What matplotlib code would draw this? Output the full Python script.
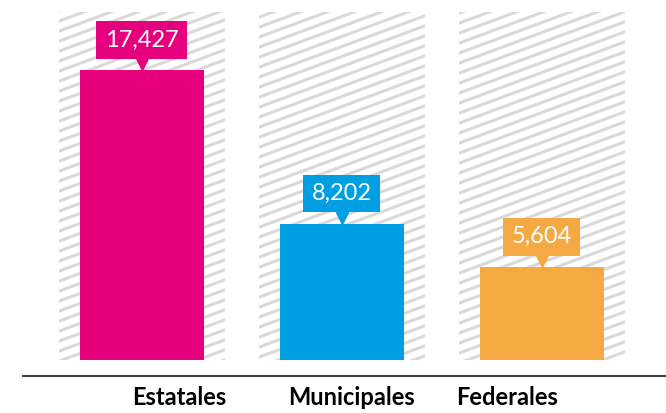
import numpy as np
import matplotlib
matplotlib.use("Agg")
from matplotlib import pyplot as plt
from matplotlib.collections import LineCollection
from matplotlib.transforms import offset_copy, blended_transform_factory

categories = ["Estatales", "Municipales", "Federales"]
values = [17427, 8202, 5604]
colors = ["#E6007E", "#009FE3", "#F5A942"]
label_shift = [0.19, 0.05, -0.17]  # category labels sit off-centre in the original

fig = plt.figure(figsize=(6.66, 4.13), dpi=100)
ax = fig.add_axes([0, 53 / 413, 1, 360 / 413])
x = np.arange(len(categories))

ymax = values[0] * 360 / 290
ax.set_xlim(-0.7075, 2.6225)
ax.set_ylim(0, ymax)
ax.axis("off")

# hatched background columns
bg = ax.bar(x, [values[0] * 348 / 290] * len(x), width=0.83, color="none", edgecolor="none")
segs = []
for y0 in np.arange(-400, 420, 10):
    segs.append([(0, y0 / 100), (6.66, (y0 + 0.37 * 666) / 100)])
for p in bg:
    lc = LineCollection(segs, colors="#d9d9d9", linewidths=2.2, transform=fig.dpi_scale_trans)
    ax.add_collection(lc, autolim=False)
    lc.set_clip_box(None)
    lc.set_clip_path(p.get_path(), p.get_transform())

ax.bar(x, values, width=0.62, color=colors, zorder=3)

# callout labels
for xi, v, c in zip(x, values, colors):
    tri = offset_copy(ax.transData, fig=fig, y=4, units="points")
    ax.plot(xi, v, marker="v", markersize=8, color=c, transform=tri, zorder=4, clip_on=False)
    ax.annotate(f"{v:,}", (xi, v), xytext=(0, 14), textcoords="offset points",
                ha="center", va="bottom", color="white", fontsize=17, family="Lato",
                bbox=dict(boxstyle="square,pad=0.35", fc=c, ec="none"), zorder=5)

# baseline
ax.plot([23 / 666, 1], [-0.044, -0.044], transform=ax.transAxes, color="#404040",
        lw=1.5, clip_on=False)

trans = blended_transform_factory(ax.transData, ax.transAxes)
for xi, name, dx in zip(x, categories, label_shift):
    ax.text(xi + dx, -0.103, name, transform=trans, ha="center", va="center",
            fontsize=17, fontweight="bold", family="Lato", color="black")

fig.savefig("out.png", dpi=100)
